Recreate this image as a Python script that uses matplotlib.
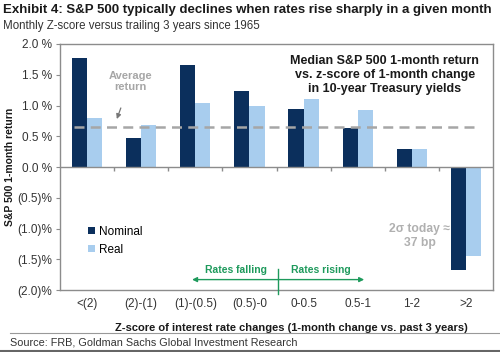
import matplotlib
matplotlib.use("Agg")
import matplotlib.pyplot as plt
import numpy as np
from matplotlib.lines import Line2D

plt.rcParams['font.family'] = ['Liberation Sans', 'DejaVu Sans']

categories = ["<(2)", "(2)-(1)", "(1)-(0.5)", "(0.5)-0", "0-0.5", "0.5-1", "1-2", ">2"]
nominal = [1.78, 0.47, 1.66, 1.23, 0.95, 0.63, 0.30, -1.68]
real = [0.80, 0.69, 1.04, 1.00, 1.11, 0.93, 0.30, -1.44]
average_return = 0.65
yticks = [2.0, 1.5, 1.0, 0.5, 0.0, -0.5, -1.0, -1.5, -2.0]
ytick_labels = ["2.0 %", "1.5 %", "1.0 %", "0.5 %", "0.0 %", "(0.5)%", "(1.0)%", "(1.5)%", "(2.0)%"]

NAVY = "#0b2f5c"
LIGHT = "#a8cdee"
GREEN = "#1e9a5c"
GRAY = "#a6a6a6"
SPINE = "#8c8c8c"

fig = plt.figure(figsize=(5.0, 3.52), dpi=100)
ax = fig.add_axes([0.12, 0.176, 0.866, 0.699])

x = np.arange(len(categories))
w = 0.28
ax.bar(x - w / 2, nominal, width=w, color=NAVY, label="Nominal", zorder=3)
ax.bar(x + w / 2, real, width=w, color=LIGHT, label="Real", zorder=3)

ax.set_xlim(-0.5, len(categories) - 0.5)
ax.set_ylim(-2.0, 2.0)
ax.set_yticks(yticks)
ax.set_yticklabels(ytick_labels, fontsize=8.5, color="#333333")
ax.set_xticks(x)
ax.set_xticklabels(categories, fontsize=8.5, color="#333333")
ax.tick_params(axis='x', length=0, pad=6)
ax.tick_params(axis='y', length=3, color=SPINE, pad=3)
for s in ax.spines.values():
    s.set_color(SPINE)
    s.set_linewidth(1.0)

# zero line with boundary ticks
ax.axhline(0, color=SPINE, lw=1.0, zorder=4)
bounds = np.arange(0.5, len(categories) - 0.5, 1.0)
ax.vlines(bounds, -0.07, 0, color=SPINE, lw=1.0, zorder=4)

# average line
ax.plot([-0.25, 7.25], [average_return, average_return], color=GRAY, lw=1.8,
        ls=(0, (4, 2.5)), zorder=5)
ax.annotate("Average\nreturn", xy=(0.55, 0.78), xytext=(0.8, 1.39),
            ha="center", va="center", fontsize=8, fontweight="bold", color=GRAY,
            linespacing=1.15,
            arrowprops=dict(arrowstyle="-|>", color="#777777", lw=0.9,
                            mutation_scale=7, shrinkA=10, shrinkB=0))

ax.text(5.5, 1.5, "Median S&P 500 1-month return\nvs. z-score of 1-month change\nin 10-year Treasury yields",
        ha="center", va="center", fontsize=9, fontweight="bold", color="#1a1a1a",
        linespacing=1.2)

ax.text(6.15, -1.12, "2σ today ≈\n37 bp", ha="center", va="center", fontsize=8.7,
        fontweight="bold", color="#b0b0b0", linespacing=1.15)

# rates falling / rising
ax.annotate("", xy=(1.94, -1.83), xytext=(3.53, -1.83),
            arrowprops=dict(arrowstyle="-|>", color=GREEN, lw=1.0, mutation_scale=7, shrinkA=0, shrinkB=0))
ax.annotate("", xy=(5.12, -1.83), xytext=(3.53, -1.83),
            arrowprops=dict(arrowstyle="-|>", color=GREEN, lw=1.0, mutation_scale=7, shrinkA=0, shrinkB=0))
ax.plot([3.53, 3.53], [-1.66, -2.07], color=GREEN, lw=1.0, clip_on=False, zorder=6)
ax.text(2.75, -1.68, "Rates falling", ha="center", va="center", fontsize=7.5,
        fontweight="bold", color=GREEN)
ax.text(4.32, -1.68, "Rates rising", ha="center", va="center", fontsize=7.5,
        fontweight="bold", color=GREEN)

ax.set_ylabel("S&P 500 1-month return", fontsize=7.5, fontweight="bold", color="#1a1a1a")
ax.yaxis.set_label_coords(-0.105, 0.5)
ax.set_xlabel("Z-score of interest rate changes (1-month change vs. past 3 years)",
              fontsize=8, fontweight="bold", color="#1a1a1a")
ax.xaxis.set_label_coords(0.535, -0.135)

ax.legend(loc="upper left", bbox_to_anchor=(0.04, 0.305), frameon=False, fontsize=8.5,
          handlelength=0.6, handleheight=0.6, handletextpad=0.3, labelspacing=0.5)

fig.text(0.006, 0.972, "Exhibit 4: S&P 500 typically declines when rates rise sharply in a given month",
         fontsize=9.5, fontweight="bold", color="#1a1a1a", va="center")
fig.text(0.006, 0.926, "Monthly Z-score versus trailing 3 years since 1965",
         fontsize=8.3, color="#333333", va="center")
fig.text(0.02, 0.027, "Source: FRB, Goldman Sachs Global Investment Research",
         fontsize=7.8, color="#333333", va="center")

fig.add_artist(Line2D([0.02, 1.0], [0.054, 0.054], color="#999999", lw=0.8))
fig.add_artist(Line2D([0.0, 1.0], [0.003, 0.003], color="#666666", lw=1.5))

fig.savefig("out.png", dpi=100)
